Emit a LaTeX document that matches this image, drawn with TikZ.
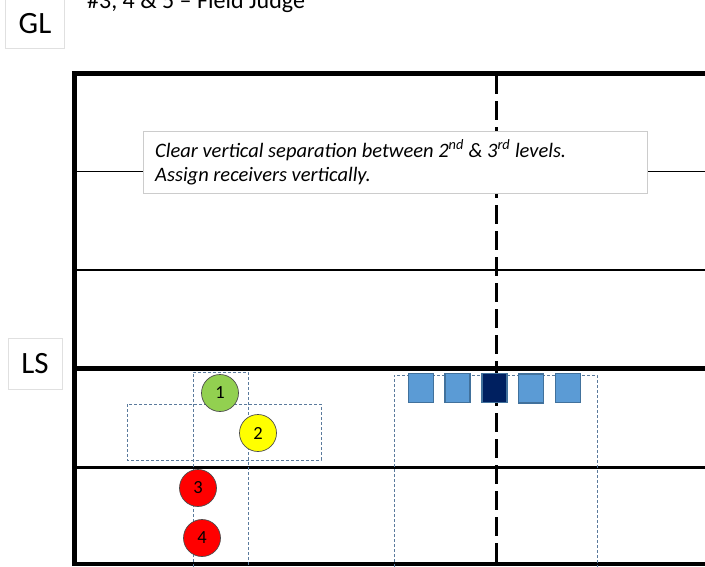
\documentclass[tikz,border=0pt]{standalone}
\usepackage{fontspec}
\setmainfont{Carlito}
\begin{document}
\begin{tikzpicture}[x=1pt,y=-1pt,
  fieldthick/.style={line width=4.5pt},
  fieldthin/.style={line width=1.5pt},
  labelbox/.style={draw=black!12, fill=white, line width=0.8pt, minimum width=59pt, minimum height=50pt, inner sep=0pt, font=\fontsize{31}{34}\selectfont},
  player/.style={circle, draw=black!70, line width=0.7pt, minimum size=37pt, inner sep=0pt, font=\fontsize{18.5}{20}\selectfont},
  lineman/.style={draw=lmborder, fill=lmfill, line width=1.2pt, minimum width=25pt, minimum height=29pt, inner sep=0pt},
  zone/.style={draw=zonecol, dashed, dash pattern=on 3pt off 2pt, line width=0.7pt},
  notetext/.style={anchor=base west, inner sep=0pt, font=\itshape\fontsize{20.5}{24}\selectfont}
]
\definecolor{lmfill}{HTML}{5B9BD5}
\definecolor{lmborder}{HTML}{41719C}
\definecolor{center}{HTML}{002060}
\definecolor{zonecol}{HTML}{5A7A9C}
\definecolor{pgreen}{HTML}{92D050}
\definecolor{pyellow}{HTML}{FFFF00}
\definecolor{pred}{HTML}{FF0000}
\useasboundingbox (0,0) rectangle (705,566);
\clip (0,0) rectangle (705,566);

% title (partly cut off at top, as in the reference)
\node[anchor=base west, inner sep=0pt, font=\fontsize{24}{28}\selectfont] (title) at (87,8) {\#3, 4 \& 5 – Field Judge};

% side labels
\node[labelbox, minimum height=62pt] (gl) at (35,17) {};
\node[inner sep=0pt, font=\fontsize{31}{34}\selectfont] (gltext) at (35,24) {GL};
\node[labelbox, minimum width=54pt, minimum height=51pt] (ls) at (35,363.5) {LS};

% field lines
\draw[fieldthin] (74,171.5) -- (705,171.5);
\draw[fieldthin] (74,270) -- (705,270);
\draw[line width=3pt] (74,467.5) -- (705,467.5);
\draw[fieldthick] (74,368.5) -- (705,368.5);
\draw[fieldthick] (74,564) -- (705,564);
\draw[line width=3pt, dash pattern=on 19pt off 7pt] (496.5,75) -- (496.5,566);
\draw[fieldthick] (71.75,73.5) -- (705,73.5);
\draw[line width=5pt] (74,71.25) -- (74,566);

% note
\node[draw=black!20, fill=white, line width=0.8pt, minimum width=504pt, minimum height=62pt, inner sep=0pt] (note) at (395,162) {};
\node[notetext] (note1) at (155,157) {Clear vertical separation between 2\textsuperscript{nd} \& 3\textsuperscript{rd} levels.};
\node[notetext] (note2) at (155,181) {Assign receivers vertically.};

% zones
\draw[zone] (193,572) -- (193,372) -- (248,372) -- (248,572);
\draw[zone] (127,404) rectangle (321,460);
\draw[zone] (394,572) -- (394,375) -- (597,375) -- (597,572);

% players
\node[player, fill=pgreen] (p1) at (220,393) {1};
\node[player, fill=pyellow] (p2) at (258,433) {2};
\node[player, fill=pred] (p3) at (198,488) {3};
\node[player, fill=pred] (p4) at (202,538) {4};

% linemen
\node[lineman] (s1) at (421,388) {};
\node[lineman] (s2) at (457.5,388) {};
\node[lineman, fill=center] (s3) at (494.5,388) {};
\node[lineman] (s4) at (531,388.5) {};
\node[lineman] (s5) at (568,388) {};
\end{tikzpicture}
\end{document}
